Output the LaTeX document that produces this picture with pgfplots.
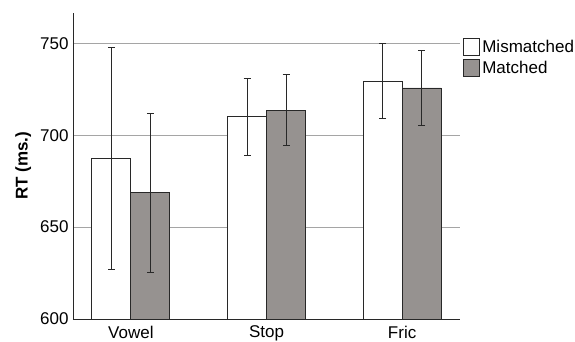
\documentclass[border=0pt]{standalone}
\usepackage{pgfplots}
\pgfplotsset{compat=1.18}
\usepackage{fontspec}
\setmainfont{Liberation Sans}
\definecolor{matchfill}{RGB}{150,146,144}
\definecolor{edgec}{RGB}{40,40,40}
\definecolor{gridc}{RGB}{165,165,165}
\begin{document}
\begin{tikzpicture}[x=1pt,y=1pt]
\useasboundingbox (0,0) rectangle (575,342);
\begin{axis}[
  at={(73pt,23pt)}, anchor=south west,
  scale only axis, width=387pt, height=306pt,
  xmin=-0.4265, xmax=2.4265, ymin=600, ymax=766.5,
  axis x line=bottom, axis y line=left,
  axis line style={-, draw=edgec, line width=0.8pt},
  xtick={0,1,2}, xticklabels={Vowel,Stop,Fric},
  ytick={600,650,700,750},
  major tick length=0pt,
  ymajorgrids, grid style={gridc, line width=0.8pt},
  /pgf/number format/assume math mode=true,
  tick label style={font=\fontsize{17}{20}\selectfont},
  yticklabel style={xshift=-1pt},
  xticklabel style={yshift=-3.5pt},
  ylabel={\textbf{RT (ms.)}},
  ylabel style={font=\fontsize{17}{20}\selectfont, yshift=2pt},
  ybar=0pt, bar width=39pt,
  legend style={at={(axis description cs:1.006,0.92)}, anchor=north west,
    draw=none, fill=none, font=\fontsize{17}{20}\selectfont,
    inner sep=0pt, row sep=3pt,
    /tikz/every odd column/.append style={column sep=1pt}},
  legend cell align=left,
  legend image code/.code={\draw[#1, line width=0.8pt] (0pt,-8pt) rectangle (16pt,9pt);},
  error bars/error bar style={line width=0.8pt, draw=edgec},
  error bars/error mark options={rotate=90, mark size=3.5pt, line width=0.8pt, draw=edgec},
]
\addplot[fill=white, draw=edgec, line width=0.8pt,
  error bars/.cd, y dir=both, y explicit]
  coordinates {(0,687.5) +- (0,60.3) (1,710.1) +- (0,21.0) (2,729.3) +- (0,20.4)};
\addplot[fill=matchfill, draw=edgec, line width=0.8pt,
  error bars/.cd, y dir=both, y explicit]
  coordinates {(0,668.7) +- (0,43.3) (1,713.7) +- (0,19.5) (2,725.7) +- (0,20.3)};
\legend{Mismatched,Matched}
\end{axis}
\end{tikzpicture}
\end{document}
